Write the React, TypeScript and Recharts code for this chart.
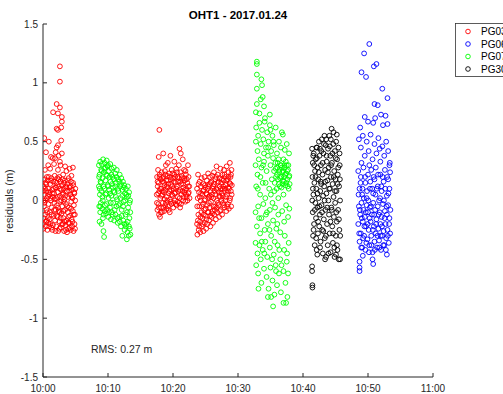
import React from "react"
import { ScatterChart, Scatter, XAxis, YAxis } from "recharts"

// residuals per satellite pass: [minutes after 10:00, residual (m)]
const pg03a: [number, number][] = [
  [2.6,1.14],[2.6,1.01],[2.1,0.82],[2.6,0.79],[1.55,0.75],[2.3,0.74],[2.9,0.71],[2.9,0.67],[2.1,0.61],[2.8,0.62],[2.3,0.6],
  [0.2,0.53],[0.9,0.5],[2.8,0.51],[2.3,0.47],[2.1,0.45],[0.46,0.41],[1.95,0.41],[2.9,0.4],[1.23,0.37],[1.85,0.36],[2.6,0.33],
  [0.8,0.3],[3.4,0.29],[4.6,0.28],[0.3,0.26],[2.3,0.26],[3.6,0.25],[1.5,0.36],[2.4,0.38],[0.6,0.2],[3.1,0.22],[1.1,0.27],
  [2.7,0.3],[4.1,0.27],[1.7,0.31],
  [0.0,-0.2],[0.05,-0.24],[0.1,0.12],[0.15,-0.05],[0.2,0.05],[0.25,0.18],[0.3,-0.12],[0.35,0.0],[0.4,0.15],[0.45,-0.18],
  [0.5,0.08],[0.55,-0.08],[0.6,0.02],[0.7,0.17],[0.75,-0.15],[0.8,0.1],[0.85,-0.03],[0.9,0.2],[0.95,-0.22],
  [1.0,0.05],[1.05,-0.1],[1.1,0.14],[1.15,-0.2],[1.2,0.0],[1.3,0.19],[1.35,-0.06],[1.4,0.09],[1.45,-0.25],[1.5,0.03],
  [1.6,0.16],[1.65,-0.13],[1.7,0.06],[1.75,-0.02],[1.8,0.21],[1.85,-0.17],[1.9,0.11],[1.95,-0.08],
  [2.0,0.02],[2.05,-0.22],[2.1,0.15],[2.15,-0.04],[2.2,0.19],[2.25,-0.14],[2.3,0.07],[2.35,-0.26],[2.4,0.12],[2.45,-0.09],
  [2.5,0.2],[2.55,-0.18],[2.6,0.04],[2.65,-0.01],[2.7,0.16],[2.75,-0.23],[2.8,0.09],[2.85,-0.11],[2.9,0.13],[2.95,-0.05],
  [3.0,0.18],[3.05,-0.2],[3.1,0.06],[3.15,-0.15],[3.2,0.1],[3.25,-0.26],[3.3,0.01],[3.35,0.17],[3.4,-0.08],[3.45,-0.21],
  [3.5,0.12],[3.55,-0.03],[3.6,-0.17],[3.65,0.08],[3.7,-0.27],[3.75,0.14],[3.8,-0.1],[3.85,0.03],[3.9,-0.24],[3.95,0.19],
  [4.0,-0.06],[4.05,-0.19],[4.1,0.11],[4.15,-0.13],[4.2,0.05],[4.25,-0.25],[4.3,0.16],[4.35,-0.01],[4.4,-0.16],[4.45,0.09],
  [4.5,-0.22],[4.55,0.02],[4.6,-0.09],[4.65,0.13],[4.7,-0.26],[4.75,-0.04],[4.8,0.07],[4.85,-0.2],[4.9,-0.12],[4.95,0.0],
  [0.025,0.08],[0.125,-0.15],[0.225,-0.02],[0.325,0.1],[0.425,-0.22],[0.525,0.14],[0.625,-0.1],[0.725,0.04],[0.825,-0.19],[0.925,0.07],
  [1.025,-0.16],[1.125,0.02],[1.225,0.17],[1.325,-0.12],[1.425,0.06],[1.525,-0.21],[1.625,0.1],[1.725,-0.08],[1.825,0.01],[1.925,-0.26],
  [2.025,0.11],[2.125,-0.13],[2.225,0.03],[2.325,-0.06],[2.425,0.18],[2.525,-0.24],[2.625,0.1],[2.725,-0.15],[2.825,0.0],[2.925,-0.2],
  [3.025,0.05],[3.125,-0.09],[3.225,0.15],[3.325,-0.18],[3.425,0.04],[3.525,-0.25],[3.625,0.11],[3.725,-0.05],[3.825,0.17],[3.925,-0.14],
  [4.025,0.08],[4.125,-0.23],[4.225,0.12],[4.325,-0.07],[4.425,0.03],[4.525,-0.18],[4.625,0.15],[4.725,-0.12],[4.825,0.06],[4.925,-0.24],
  [0.075,0.0],[0.575,-0.17],[1.275,-0.23],[1.875,0.16],[2.575,-0.1],[3.175,-0.01],[3.875,-0.19],[4.375,0.21],[4.975,0.1],[0.675,-0.25],
]

const pg03b: [number, number][] = [
  [17.5,0.05],[17.55,0.2],[17.6,-0.08],[17.65,0.12],[17.7,0.26],[17.75,-0.03],[17.8,0.37],[17.8,0.15],[17.85,-0.12],
  [17.9,0.6],[17.9,0.08],[17.95,0.22],[18.0,-0.14],[18.05,0.02],[18.1,0.18],[18.15,-0.06],[18.2,0.1],[18.25,0.24],
  [18.3,-0.1],[18.35,0.05],[18.4,0.16],[18.45,-0.02],[18.5,0.4],[18.55,0.2],[18.6,0.07],[18.65,-0.09],[18.7,0.13],
  [18.75,0.25],[18.8,-0.04],[18.85,0.09],[18.9,0.3],[18.95,0.17],[19.0,-0.07],[19.05,0.03],[19.1,0.21],[19.15,0.11],
  [19.2,0.32],[19.25,-0.05],[19.3,0.14],[19.35,0.06],[19.4,0.23],[19.5,-0.1],[19.55,0.01],[19.6,0.38],[19.65,0.18],
  [19.7,0.09],[19.75,-0.03],[19.8,0.26],[19.85,0.12],[19.9,0.04],[20.0,0.19],[20.05,-0.06],[20.1,0.1],[20.2,0.33],
  [20.25,0.22],[20.3,0.0],[20.35,0.15],[20.4,0.07],[20.5,0.27],[20.55,-0.04],[20.6,0.12],[20.7,0.2],[20.75,0.03],
  [20.8,0.16],[20.9,0.3],[20.95,-0.02],[21.0,0.44],[21.05,0.09],[21.1,-0.06],[21.15,0.24],[21.2,0.4],[21.25,0.14],
  [21.3,0.05],[21.4,0.19],[21.5,0.35],[21.55,0.0],[21.6,0.11],[21.7,0.26],[21.75,0.07],[21.8,0.17],[21.9,-0.01],
  [22.0,0.22],[22.05,0.1],[22.1,0.03],[22.2,0.15],[22.3,0.3],[22.35,0.06],[22.4,0.2],[22.5,0.12],[22.55,0.02],
  [17.525,-0.02],[17.625,0.16],[17.725,0.06],[17.825,-0.06],[17.925,0.2],[18.025,0.1],[18.125,-0.1],[18.225,0.04],[18.325,0.19],[18.425,0.08],
  [18.525,-0.06],[18.625,0.15],[18.725,0.01],[18.825,0.22],[18.925,-0.02],[19.025,0.12],[19.125,0.0],[19.225,0.17],[19.325,-0.08],[19.425,0.08],
  [19.525,0.2],[19.625,-0.01],[19.725,0.14],[19.825,0.05],[19.925,0.23],[20.025,-0.02],[20.125,0.16],[20.225,0.06],[20.325,0.2],[20.425,-0.03],
  [20.525,0.1],[20.625,0.24],[20.725,-0.01],[20.825,0.08],[20.925,0.19],[21.025,0.02],[21.125,0.16],[21.225,-0.03],[21.325,0.21],[21.425,0.08],
  [21.525,0.14],[21.625,0.03],[21.725,0.19],[21.825,0.09],[21.925,0.25],[22.025,0.05],[22.125,0.18],[22.225,0.0],[22.325,0.12],[22.425,0.07],
]

const pg03c: [number, number][] = [
  [23.7,-0.2],[23.7,0.1],[23.75,-0.29],[23.8,0.02],[23.85,0.22],[23.9,-0.12],[23.95,-0.25],[24.0,0.07],[24.05,-0.05],
  [24.1,0.16],[24.15,-0.18],[24.2,-0.27],[24.25,0.0],[24.3,0.12],[24.35,-0.1],[24.4,0.19],[24.45,-0.22],[24.5,0.05],
  [24.55,-0.15],[24.6,-0.03],[24.65,0.14],[24.7,-0.26],[24.75,0.09],[24.8,-0.08],[24.85,0.2],[24.9,-0.19],[24.95,0.01],
  [25.0,0.11],[25.05,-0.13],[25.1,-0.24],[25.15,0.06],[25.2,0.17],[25.25,-0.04],[25.3,-0.2],[25.35,0.1],[25.4,0.23],
  [25.45,-0.1],[25.5,0.03],[25.55,-0.17],[25.6,0.14],[25.65,-0.06],[25.7,0.2],[25.75,-0.22],[25.8,0.08],[25.85,-0.01],
  [25.9,0.16],[25.95,-0.14],[26.0,0.05],[26.05,0.21],[26.1,-0.09],[26.15,-0.19],[26.2,0.12],[26.25,0.02],[26.3,0.24],
  [26.35,-0.12],[26.4,0.08],[26.5,-0.05],[26.55,0.18],[26.6,-0.16],[26.65,0.1],[26.7,0.29],[26.75,0.0],[26.8,-0.1],
  [26.85,0.15],[26.9,0.22],[27.0,-0.04],[27.05,0.07],[27.1,-0.14],[27.15,0.19],[27.2,0.12],[27.25,0.03],[27.3,0.27],
  [27.35,-0.08],[27.4,0.15],[27.5,0.06],[27.55,-0.12],[27.6,0.22],[27.65,0.1],[27.7,-0.02],[27.8,0.17],[27.85,0.26],
  [27.9,-0.06],[27.95,0.08],[28.0,0.2],[28.05,0.0],[28.1,0.13],[28.2,-0.09],[28.25,0.29],[28.3,0.05],[28.4,0.18],
  [28.45,-0.03],[28.5,0.11],[28.55,0.24],[28.6,-0.07],[28.7,0.15],[28.75,0.32],[28.8,0.02],[28.85,0.2],[28.9,0.08],
  [28.95,-0.05],[29.0,0.26],[29.05,0.13],
  [23.725,-0.05],[23.825,-0.17],[23.925,0.14],[24.025,-0.22],[24.125,0.03],[24.225,-0.14],[24.325,0.06],[24.425,-0.05],[24.525,-0.2],[24.625,0.08],
  [24.725,-0.12],[24.825,0.0],[24.925,0.13],[25.025,-0.07],[25.125,-0.16],[25.225,0.05],[25.325,-0.1],[25.425,0.12],[25.525,-0.02],[25.625,0.04],
  [25.725,-0.13],[25.825,0.15],[25.925,0.03],[26.025,-0.11],[26.125,0.1],[26.225,-0.05],[26.325,0.14],[26.425,-0.08],[26.525,0.05],[26.625,0.2],
  [26.725,-0.06],[26.825,0.09],[26.925,-0.02],[27.025,0.16],[27.125,0.04],[27.225,-0.09],[27.325,0.1],[27.425,0.0],[27.525,0.18],[27.625,0.04],
  [27.725,0.12],[27.825,-0.04],[27.925,0.22],[28.025,0.1],[28.125,0.03],[28.225,0.17],[28.325,-0.05],[28.425,0.08],[28.525,0.2],[28.625,0.1],
  [28.725,0.0],[28.825,0.14],[28.925,0.22],[29.025,0.05],
]

const pg07a: [number, number][] = [
  [8.6,0.3],[8.6,0.12],[8.65,-0.05],[8.7,0.22],[8.7,-0.18],[8.75,0.05],[8.8,0.33],[8.8,-0.1],[8.85,0.16],[8.9,-0.02],
  [8.95,0.26],[9.0,0.08],[9.0,-0.2],[9.05,0.31],[9.1,-0.07],[9.15,0.19],[9.2,0.0],[9.25,0.35],[9.3,-0.12],[9.3,-0.26],
  [9.35,0.24],[9.4,-0.31],[9.45,0.1],[9.5,0.32],[9.55,-0.04],[9.6,0.17],[9.65,0.28],[9.7,-0.11],[9.75,0.06],[9.8,0.34],
  [9.85,0.21],[9.9,-0.08],[9.95,0.13],[10.0,0.3],[10.05,-0.14],[10.1,0.02],[10.15,0.25],[10.2,0.09],[10.3,-0.06],
  [10.35,0.31],[10.4,0.16],[10.45,-0.16],[10.5,0.04],[10.55,0.27],[10.6,-0.1],[10.7,0.2],[10.75,0.11],[10.8,-0.02],
  [10.9,0.28],[10.95,-0.17],[11.0,0.07],[11.1,0.23],[11.15,-0.12],[11.2,0.15],[11.3,-0.05],[11.35,0.26],[11.4,0.01],
  [11.5,-0.19],[11.55,0.18],[11.6,0.08],[11.7,-0.14],[11.8,0.22],[11.85,-0.03],[11.9,0.12],[12.0,-0.22],[12.05,0.19],
  [12.1,-0.08],[12.2,0.04],[12.2,-0.3],[12.3,0.16],[12.35,-0.17],[12.4,-0.01],[12.5,0.13],[12.55,-0.25],[12.6,0.06],
  [12.7,-0.12],[12.75,0.1],[12.8,-0.2],[12.9,-0.33],[12.9,0.03],[13.0,-0.27],[13.05,0.12],[13.1,-0.06],[13.2,-0.3],
  [13.25,0.07],[13.3,-0.15],[13.35,-0.24],[13.4,0.0],[13.45,-0.29],
  [8.625,0.2],[8.725,0.1],[8.825,-0.05],[8.925,0.15],[9.025,0.25],[9.125,0.03],[9.225,-0.15],[9.325,0.12],[9.425,0.27],[9.525,-0.09],
  [9.625,0.05],[9.725,0.22],[9.825,-0.03],[9.925,0.29],[10.025,0.12],[10.125,-0.1],[10.225,0.2],[10.325,0.06],[10.425,-0.02],[10.525,0.22],
  [10.625,0.14],[10.725,-0.12],[10.825,0.08],[10.925,0.18],[11.025,-0.08],[11.125,0.12],[11.225,0.03],[11.325,0.2],[11.425,-0.15],[11.525,0.1],
  [11.625,-0.04],[11.725,0.16],[11.825,-0.18],[11.925,0.02],[12.025,0.14],[12.125,-0.13],[12.225,0.09],[12.325,-0.05],[12.425,0.11],[12.525,-0.2],
  [12.625,0.0],[12.725,-0.22],[12.825,0.05],[12.925,-0.1],[13.025,-0.18],[13.125,0.04],[13.225,-0.22],[13.325,-0.02],[13.425,-0.1],
]

const pg07b: [number, number][] = [
  [32.9,1.18],[32.9,1.16],[32.9,1.07],[33.6,1.03],[33.7,0.98],[32.9,0.95],[33.8,0.88],[33.5,0.86],[32.9,0.82],[34.0,0.8],
  [34.9,0.73],[33.3,0.74],
  [32.8,0.62],[33.1,0.55],[33.3,0.66],[33.5,0.48],[33.7,0.6],[33.9,0.52],[34.1,0.67],[34.3,0.45],[34.5,0.58],[34.7,0.5],
  [34.9,0.64],[35.1,0.42],[35.3,0.55],[35.5,0.47],[35.8,0.62],[36.0,0.4],[36.3,0.5],[36.6,0.45],[36.9,0.56],[37.2,0.43],
  [37.5,0.48],[33.0,0.42],[34.0,0.4],[35.0,0.6],
  [32.7,0.3],[32.8,0.12],[33.0,0.22],[33.2,0.35],[33.4,0.05],[33.6,0.28],[33.8,0.15],[34.0,0.33],[34.2,0.02],[34.4,0.25],
  [34.6,0.38],[34.8,0.1],[35.0,0.3],[35.2,0.18],[35.4,0.36],[35.6,0.08],[35.8,0.27],[36.0,0.22],[36.1,0.32],[36.3,0.14],
  [36.4,0.26],[36.5,0.19],[36.6,0.3],[36.7,0.11],[36.8,0.24],[36.9,0.17],[37.0,0.35],[37.1,0.2],[37.2,0.28],[37.3,0.13],
  [37.4,0.23],[37.5,0.3],[37.6,0.18],[37.7,0.26],[37.8,0.1],[37.9,0.21],[36.2,0.02],[35.3,-0.02],[37.0,0.05],
  [32.7,-0.1],[32.9,-0.22],[33.1,-0.05],[33.4,-0.28],[33.6,-0.15],[33.9,-0.03],[34.1,-0.25],[34.3,-0.12],[34.6,-0.2],
  [34.9,-0.08],[35.1,-0.3],[35.4,-0.17],[35.7,-0.06],[35.9,-0.24],[36.2,-0.12],[36.5,-0.27],[36.8,-0.09],[37.1,-0.18],
  [37.4,-0.04],[37.7,-0.14],[37.9,-0.07],
  [32.7,-0.36],[32.8,-0.55],[33.0,-0.45],[33.1,-0.62],[33.3,-0.38],[33.5,-0.5],[33.6,-0.7],[33.8,-0.42],[34.0,-0.58],
  [34.2,-0.35],[34.4,-0.65],[34.5,-0.48],[34.7,-0.75],[34.9,-0.4],[35.0,-0.57],[35.4,-0.9],[35.3,-0.68],[35.5,-0.46],
  [35.6,-0.8],[35.8,-0.55],[36.0,-0.72],[36.1,-0.38],[36.3,-0.62],[36.5,-0.5],[36.6,-0.78],[37.0,-0.87],[37.4,-0.87],
  [37.0,-0.6],[37.1,-0.42],[37.3,-0.7],[37.5,-0.52],[37.6,-0.82],[37.8,-0.36],[35.1,-0.82],[34.6,-0.82],[37.7,-0.62],
  [35.55,0.25],[35.65,0.15],[35.75,0.32],[35.85,0.2],[35.95,0.1],[36.05,0.28],[36.15,0.18],[36.25,0.35],[36.35,0.24],[36.45,0.12],
  [36.55,0.3],[36.65,0.2],[36.75,0.28],[36.85,0.14],[36.95,0.25],[37.05,0.16],[37.15,0.3],[37.25,0.22],[37.35,0.33],[37.45,0.15],
  [37.55,0.25],[37.65,0.12],[37.75,0.3],[37.85,0.2],[37.95,0.14],
  [32.75,0.5],[33.05,0.1],[33.25,-0.15],[33.45,0.2],[33.65,-0.35],[33.85,0.3],[34.05,-0.45],[34.25,0.15],[34.45,-0.1],[34.65,0.45],
  [34.85,-0.25],[35.05,0.05],[35.25,-0.5],[35.45,0.5],[35.65,-0.35],[35.85,-0.6],[36.05,-0.2],[36.35,-0.42],[36.7,-0.55],[37.2,-0.3],
  [37.55,-0.45],[37.85,0.4],[32.75,0.75],[33.15,-0.75],[34.15,0.7],[36.75,0.58],
]

const pg30: [number, number][] = [
  [41.4,-0.56],[41.4,-0.6],[41.45,-0.72],[41.45,-0.74],
  [41.4,0.44],[41.45,0.2],[41.5,-0.1],[41.5,0.32],[41.55,-0.3],[41.6,0.05],[41.65,0.4],[41.7,-0.2],[41.75,0.15],
  [41.8,-0.38],[41.85,0.25],[41.9,-0.02],[41.95,0.35],[42.0,-0.15],[42.05,0.1],[42.1,-0.42],[42.15,0.45],[42.2,-0.06],
  [42.25,0.28],[42.3,-0.28],[42.35,0.18],[42.4,0.02],[42.45,0.5],[42.5,-0.22],[42.55,0.38],[42.6,-0.12],[42.65,0.08],
  [42.7,-0.35],[42.75,0.3],[42.8,0.14],[42.85,-0.04],[42.9,0.52],[42.95,-0.25],[43.0,0.22],[43.05,-0.45],[43.1,0.04],
  [43.15,0.4],[43.2,-0.16],[43.25,0.12],[43.3,0.55],[43.35,-0.32],[43.4,0.26],[43.45,-0.08],[43.5,0.47],[43.55,-0.48],
  [43.6,0.06],[43.65,0.33],[43.7,-0.2],[43.75,0.17],[43.8,-0.38],[43.85,0.44],[43.9,0.0],[43.95,0.28],[44.0,-0.12],
  [44.05,0.55],[44.1,-0.28],[44.15,0.1],[44.2,0.38],[44.25,-0.44],[44.3,0.2],[44.35,-0.06],[44.4,0.61],[44.45,0.32],
  [44.5,-0.22],[44.55,0.14],[44.6,-0.36],[44.65,0.48],[44.7,0.03],[44.75,-0.14],[44.8,0.25],[44.85,-0.48],[44.9,0.42],
  [44.95,-0.02],[45.0,0.18],[45.05,-0.3],[45.1,0.5],[45.15,0.08],[45.2,-0.18],[45.25,0.35],[45.3,-0.42],[45.35,0.22],
  [45.4,-0.08],[45.45,0.45],[45.5,-0.5],[45.55,0.12],[45.6,-0.25],[45.65,0.3],[45.7,-0.5],[45.7,0.0],[45.2,0.56],
  [44.7,0.58],[42.6,0.44],[43.4,-0.5],[42.2,-0.46],
  [41.425,0.0],[41.525,0.1],[41.625,-0.25],[41.725,0.3],[41.825,-0.08],[41.925,0.2],[42.025,-0.32],[42.125,0.36],[42.225,0.06],[42.325,-0.18],
  [42.425,0.24],[42.525,-0.05],[42.625,-0.4],[42.725,0.16],[42.825,0.42],[42.925,-0.1],[43.025,0.32],[43.125,-0.26],[43.225,0.48],[43.325,0.0],
  [43.425,0.16],[43.525,-0.3],[43.625,0.38],[43.725,-0.06],[43.825,0.24],[43.925,-0.45],[44.025,0.1],[44.125,0.46],[44.225,-0.18],[44.325,0.3],
  [44.425,-0.08],[44.525,0.4],[44.625,-0.28],[44.725,0.2],[44.825,-0.4],[44.925,0.08],[45.025,0.36],[45.125,-0.1],[45.225,-0.38],[45.325,0.14],
  [45.425,0.28],[45.525,-0.16],[45.625,0.4],[45.725,-0.3],[45.675,0.18],[41.575,0.38],[42.075,0.45],[43.575,0.52],[44.275,0.52],[45.075,-0.46],
]

const pg06: [number, number][] = [
  [50.2,1.33],[49.4,1.25],[51.3,1.16],[50.9,1.14],[49.0,1.09],[49.7,1.05],[52.2,0.95],[53.0,0.87],[51.0,0.82],[51.5,0.81],
  [52.0,0.73],[52.7,0.72],[49.5,0.71],[51.1,0.7],[53.0,0.65],[48.8,0.62],[50.0,0.67],[52.3,0.64],[50.8,0.66],
  [48.6,0.52],[48.9,0.45],[49.2,0.55],[49.5,0.38],[49.8,0.5],[50.1,0.42],[50.4,0.56],[50.7,0.35],[51.0,0.48],[51.3,0.4],
  [51.6,0.53],[51.9,0.33],[52.2,0.46],[52.5,0.38],[52.8,0.5],[53.1,0.42],[53.3,0.3],[49.0,0.32],[50.2,0.3],[51.8,0.44],
  [48.5,0.25],[48.7,0.1],[48.9,0.2],[49.1,0.05],[49.3,0.28],[49.6,0.15],[49.8,0.02],[50.0,0.22],[50.3,0.1],[50.5,0.26],
  [50.8,0.06],[51.0,0.18],[51.2,0.28],[51.5,0.12],[51.7,0.0],[51.9,0.22],[52.1,0.08],[52.4,0.16],[52.6,0.26],[52.9,0.04],
  [53.1,0.18],[53.3,0.1],[53.4,0.24],
  [48.5,-0.2],[48.6,-0.05],[48.7,-0.35],[48.8,-0.12],[48.9,-0.28],[49.0,-0.02],[49.1,-0.4],[49.2,-0.18],[49.3,-0.08],
  [49.4,-0.3],[49.5,-0.14],[49.6,-0.42],[49.7,-0.22],[49.8,-0.04],[49.9,-0.33],[50.0,-0.1],[50.1,-0.25],[50.2,-0.38],
  [50.3,-0.06],[50.4,-0.18],[50.5,-0.3],[50.6,-0.12],[50.7,-0.44],[50.8,-0.02],[50.9,-0.22],[51.0,-0.35],[51.1,-0.08],
  [51.2,-0.28],[51.3,-0.16],[51.4,-0.4],[51.5,-0.05],[51.6,-0.24],[51.7,-0.34],[51.8,-0.1],[51.9,-0.2],[52.0,-0.42],
  [52.1,-0.14],[52.2,-0.3],[52.3,-0.03],[52.4,-0.26],[52.5,-0.38],[52.6,-0.09],[52.7,-0.2],[52.8,-0.32],[52.9,-0.12],
  [53.0,-0.25],[53.1,-0.04],[53.2,-0.36],[53.3,-0.15],[53.4,-0.28],
  [48.7,-0.52],[48.7,-0.57],[48.7,-0.6],[50.8,-0.54],[52.9,-0.46],[50.7,-0.5],[49.2,-0.47],
  [48.55,0.05],[48.65,-0.28],[48.75,-0.08],[48.85,0.15],[48.95,-0.4],[49.05,-0.15],[49.15,0.1],[49.25,-0.32],[49.35,0.02],[49.45,-0.22],
  [49.55,0.2],[49.65,-0.1],[49.75,-0.36],[49.85,0.08],[49.95,-0.2],[50.05,0.0],[50.15,-0.44],[50.25,-0.15],[50.35,0.16],[50.45,-0.05],
  [50.55,-0.38],[50.65,0.1],[50.75,-0.25],[50.85,0.2],[50.95,-0.12],[51.05,-0.42],[51.15,0.05],[51.25,-0.2],[51.35,0.1],[51.45,-0.3],
  [51.55,0.22],[51.65,-0.12],[51.75,-0.4],[51.85,0.02],[51.95,-0.3],[52.05,0.12],[52.15,-0.22],[52.25,0.2],[52.35,-0.38],[52.45,0.0],
  [52.55,-0.15],[52.65,0.1],[52.75,-0.42],[52.85,-0.05],[52.95,0.2],[53.05,-0.3],[53.15,0.06],[53.25,-0.2],[53.35,0.32],[53.45,-0.08],
]

const xTicks = [0, 10, 20, 30, 40, 50, 60]
const xTickLabels = ["10:00", "10:10", "10:20", "10:30", "10:40", "10:50", "11:00"]
const yTicks = [-1.5, -1, -0.5, 0, 0.5, 1, 1.5]
const yTickLabels = ["-1.5", "-1", "-0.5", "0", "0.5", "1", "1.5"]

const seriesNames = ["PG03", "PG06", "PG07", "PG30"]
const seriesColors = ["#ff0000", "#0000ff", "#00ff00", "#000000"]

const toPoints = (arr: [number, number][]) => arr.map(([t, r]) => ({ t, r }))

const seriesData = [
  toPoints([...pg03a, ...pg03b, ...pg03c]),
  toPoints(pg06),
  toPoints([...pg07a, ...pg07b]),
  toPoints(pg30),
]

const FONT = "'Liberation Sans', Arial, Helvetica, sans-serif"
const AXIS = "#262626"

const ring = (color: string) => (props: any) =>
  <circle cx={props.cx} cy={props.cy} r={2.4} fill="none" stroke={color} strokeWidth={0.9} />

export default function App() {
  return (
    <div style={{ position: "absolute", left: 0, top: 0, width: 503, height: 394, overflow: "hidden", background: "#fff" }}>
      <ScatterChart width={503} height={394} margin={{ top: 24, right: 70, bottom: 0, left: 0 }}>
        <XAxis
          type="number"
          dataKey="t"
          domain={[0, 60]}
          ticks={xTicks}
          tickFormatter={(v: number) => xTickLabels[xTicks.indexOf(v)]}
          height={17}
          stroke={AXIS}
          tickSize={-4}
          tickMargin={12}
          tick={{ fill: AXIS, fontSize: 10, fontFamily: FONT }}
          allowDataOverflow
        />
        <YAxis
          type="number"
          dataKey="r"
          domain={[-1.5, 1.5]}
          ticks={yTicks}
          tickFormatter={(v: number) => yTickLabels[yTicks.indexOf(v)]}
          width={43}
          stroke={AXIS}
          tickSize={-4}
          tickMargin={9}
          tick={{ fill: AXIS, fontSize: 10, fontFamily: FONT }}
          allowDataOverflow
        />
        {seriesData.map((d, i) => (
          <Scatter
            key={seriesNames[i]}
            name={seriesNames[i]}
            data={d}
            shape={ring(seriesColors[i])}
            isAnimationActive={false}
          />
        ))}
      </ScatterChart>
      <svg width={503} height={394} style={{ position: "absolute", left: 0, top: 0, pointerEvents: "none" }}>
        <text x={238} y={19} textAnchor="middle" fontFamily={FONT} fontSize={11.5} fontWeight="bold" fill="#000">
          OHT1 - 2017.01.24
        </text>
        <text transform="translate(13,201) rotate(-90)" textAnchor="middle" fontFamily={FONT} fontSize={11} fill={AXIS}>
          residuals (m)
        </text>
        <text x={91} y={353} fontFamily={FONT} fontSize={10.5} fill={AXIS}>
          RMS: 0.27 m
        </text>
        <rect x={455.5} y={23.5} width={80} height={53} fill="#fff" stroke="#333" strokeWidth={0.8} />
        {seriesNames.map((n, i) => (
          <g key={n}>
            <circle cx={468} cy={31.5 + i * 12.5} r={2.3} fill="none" stroke={seriesColors[i]} strokeWidth={0.9} />
            <text x={481} y={35 + i * 12.5} fontFamily={FONT} fontSize={10} fill="#000">{n}</text>
          </g>
        ))}
      </svg>
    </div>
  )
}
